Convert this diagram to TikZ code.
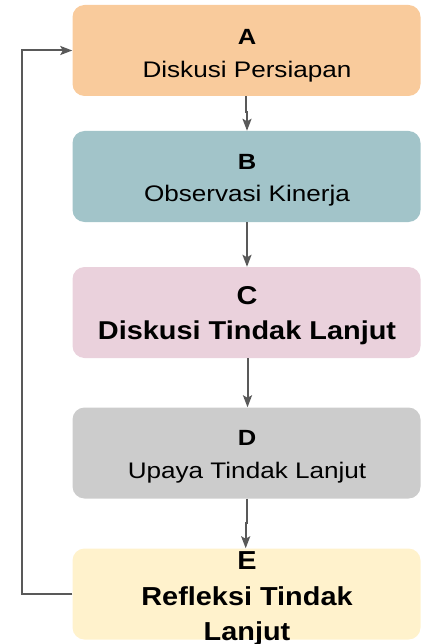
\documentclass[tikz,border=0pt]{standalone}
\usepackage{fontspec}
\setmainfont{Liberation Sans}
\newfontfamily\fa[FakeStretch=1.16]{Liberation Sans}
\newfontfamily\fb[FakeStretch=1.12]{Liberation Sans}
\newfontfamily\fe[FakeStretch=1.11]{Liberation Sans}
\usetikzlibrary{arrows.meta}
\definecolor{cA}{HTML}{F9CB9C}
\definecolor{cB}{HTML}{A2C4C9}
\definecolor{cC}{HTML}{EAD1DC}
\definecolor{cD}{HTML}{CCCCCC}
\definecolor{cE}{HTML}{FFF2CC}
\definecolor{ln}{HTML}{595959}
\tikzset{
  stepbox/.style={rectangle, rounded corners=12pt, draw=none, inner sep=0pt,
    minimum width=348pt, minimum height=91pt},
  txt/.style={anchor=base, inner sep=0pt},
  ra/.style={font=\fa\fontsize{22.5}{26}\selectfont},
  rab/.style={font=\fa\bfseries\fontsize{22}{26}\selectfont},
  cb/.style={font=\fb\bfseries\fontsize{25.8}{29}\selectfont},
  eb/.style={font=\fe\bfseries\fontsize{26}{29}\selectfont},
  conn/.style={draw=ln, line width=2pt, -{Stealth[length=12pt,width=9pt,inset=2.5pt]}}
}
\begin{document}
\begin{tikzpicture}[x=1pt,y=-1pt]
\useasboundingbox (0,0) rectangle (424,644);
\node[stepbox, fill=cA] (A) at (246.5,50.5) {};
\node[stepbox, fill=cB] (B) at (246.5,176.5) {};
\node[stepbox, fill=cC] (C) at (246.5,312.5) {};
\node[stepbox, fill=cD] (D) at (246.5,453) {};
\node[stepbox, fill=cE] (E) at (246.5,594) {};

\node[txt, rab] (At1) at (247,45) {A};
\node[txt, ra] (At2) at (247,77.5) {Diskusi Persiapan};
\node[txt, rab] (Bt1) at (247,170) {B};
\node[txt, ra] (Bt2) at (247,202) {Observasi Kinerja};
\node[txt, cb] (Ct1) at (247,304) {C};
\node[txt, cb] (Ct2) at (247,339) {Diskusi Tindak Lanjut};
\node[txt, rab] (Dt1) at (247,445.5) {D};
\node[txt, ra] (Dt2) at (247,478.5) {Upaya Tindak Lanjut};
\node[txt, eb] (Et1) at (247,569) {E};
\node[txt, eb] (Et2) at (247,605) {Refleksi Tindak};
\node[txt, eb] (Et3) at (247,640) {Lanjut};

\coordinate (j1) at (245.7,112);
\coordinate (j2) at (247,112);
\draw[conn] (A.south -| j1) -- (j1) -- (j2) -- (B.north -| j2);
\draw[conn] (B.south -| 247,0) -- (C.north -| 247,0);
\draw[conn] (C.south -| 247.5,0) -- (D.north -| 247.5,0);
\coordinate (j3) at (247.3,523);
\coordinate (j4) at (245.7,523);
\draw[conn] (D.south -| j3) -- (j3) -- (j4) -- (E.north -| j4);
\coordinate (fb) at (22,0);
\draw[conn] (E.west) -- (E.west -| fb) -- (A.west -| fb) -- (A.west);
\end{tikzpicture}
\end{document}
